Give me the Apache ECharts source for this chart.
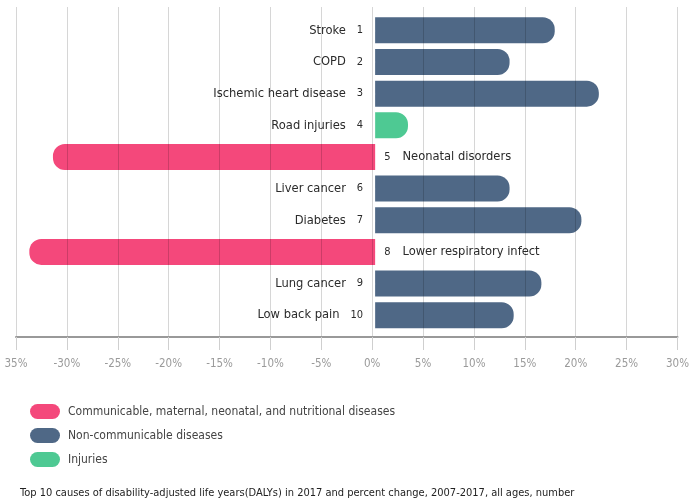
<!DOCTYPE html>
<html>
<head>
<meta charset="utf-8">
<script src="https://cdn.jsdelivr.net/npm/echarts@6/dist/echarts.min.js"></script>
<style>
  html, body { margin: 0; padding: 0; background: #fff; }
  #chart { width: 692px; height: 504px; }
</style>
</head>
<body>
<div id="chart"></div>
<script>
const causes = ["Stroke", "COPD", "Ischemic heart disease", "Road injuries", "Neonatal disorders",
  "Liver cancer", "Diabetes", "Lower respiratory infect", "Lung cancer", "Low back pain"];
const ranks = [1, 2, 3, 4, 5, 6, 7, 8, 9, 10];
const changes = [17.5, 13.1, 21.8, 3.2, -31.4, 13.1, 20.1, -33.7, 16.2, 13.5];
const groupOf = ["ncd", "ncd", "ncd", "inj", "cmnn", "ncd", "ncd", "cmnn", "ncd", "ncd"];

const groupKeys = ["cmnn", "ncd", "inj"];
const groupNames = ["Communicable, maternal, neonatal, and nutritional diseases", "Non-communicable diseases", "Injuries"];
const groupColors = ["#f4487b", "#4f6886", "#4ec993"];

const tickLabels = {"-35": "35%", "-30": "-30%", "-25": "-25%", "-20": "-20%", "-15": "-15%", "-10": "-10%",
  "-5": "-5%", "0": "0%", "5": "5%", "10": "10%", "15": "15%", "20": "20%", "25": "25%", "30": "30%"};

const FONT = "'Liberation Sans Narrow', 'DejaVu Sans Condensed', sans-serif";
const capsule = "path://M8,0 H24 A8,8 0 0 1 24,16 H8 A8,8 0 0 1 8,0 Z";

function seriesData(key) {
  return changes.map((v, i) => {
    if (groupOf[i] !== key) return null;
    const pos = v >= 0;
    return {
      value: v,
      itemStyle: { borderRadius: pos ? [0, 12, 12, 0] : [12, 0, 0, 12] },
      label: {
        show: true,
        position: pos ? "left" : "right",
        distance: pos ? 12 : 9,
        formatter: pos ? "{n|" + causes[i] + "}{il|" + ranks[i] + "}" : "{ir|" + ranks[i] + "}{n|" + causes[i] + "}",
      },
    };
  });
}

const chart = echarts.init(document.getElementById("chart"), null, { renderer: "canvas" });

chart.setOption({
  animation: false,
  textStyle: { fontFamily: FONT },
  title: {
    text: "Top 10 causes of disability-adjusted life years(DALYs) in 2017 and percent change, 2007-2017, all ages, number",
    left: 15,
    top: 483,
    textStyle: { fontFamily: FONT, fontSize: 11, fontWeight: "normal", color: "#222" },
  },
  legend: {
    orient: "vertical",
    left: 30,
    top: 404,
    padding: 0,
    itemWidth: 32,
    itemHeight: 15,
    itemGap: 9,
    icon: capsule,
    data: groupNames,
    textStyle: { fontFamily: FONT, fontSize: 12, color: "#444", padding: [0, 0, 0, 2] },
  },
  grid: [
    { left: 16, right: 9, top: 7, bottom: 167 },
    { left: 16, right: 9, top: 14.5, height: 316.5 },
  ],
  xAxis: [
    {
      gridIndex: 0,
      type: "value",
      min: -35,
      max: 30,
      interval: 5,
      z: 10,
      axisLine: { show: true, onZero: false, lineStyle: { color: "#999", width: 2 } },
      axisTick: { show: true, length: 13, lineStyle: { color: "#cfcfcf", width: 1 } },
      axisLabel: {
        color: "#9a9a9a",
        fontSize: 11.5,
        margin: 21,
        formatter: (v) => tickLabels[String(v)],
      },
      splitLine: { show: true, lineStyle: { color: "rgba(0,0,0,0.16)", width: 1 } },
    },
    {
      gridIndex: 1,
      type: "value",
      min: -35,
      max: 30,
      interval: 5,
      show: false,
      splitLine: { show: false },
    },
  ],
  yAxis: [
    { gridIndex: 0, type: "category", data: causes, show: false },
    { gridIndex: 1, type: "category", data: causes, inverse: true, show: false },
  ],
  series: groupKeys.map((key, k) => ({
    name: groupNames[k],
    type: "bar",
    xAxisIndex: 1,
    yAxisIndex: 1,
    stack: "all",
    barWidth: 26,
    itemStyle: { color: groupColors[k] },
    label: {
      color: "#2b2b2b",
      rich: {
        n: { fontFamily: FONT, fontSize: 12.8, color: "#2b2b2b" },
        il: { fontFamily: FONT, fontSize: 11, color: "#2b2b2b", padding: [0, 0, 0, 11] },
        ir: { fontFamily: FONT, fontSize: 11, color: "#2b2b2b", padding: [0, 12, 0, 0] },
      },
    },
    data: seriesData(key),
  })),
});
</script>
</body>
</html>
